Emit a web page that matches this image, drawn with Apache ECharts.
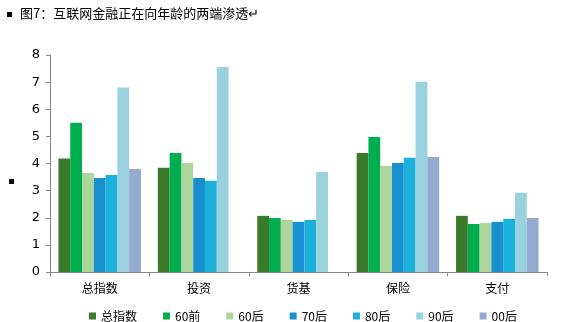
<!DOCTYPE html>
<html><head><meta charset="utf-8">
<script src="https://cdn.jsdelivr.net/npm/echarts@6/dist/echarts.min.js"></script>
<style>html,body{margin:0;padding:0;background:#fff}#c{width:564px;height:322px}</style>
</head><body><div id="c"></div>
<script>
const categories = ['总指数', '投资', '货基', '保险', '支付'];
const seriesNames = ['总指数', '60前', '60后', '70后', '80后', '90后', '00后'];
const s_total = [4.18, 3.84, 2.07, 4.39, 2.07];
const s_60q = [5.5, 4.39, 1.99, 4.98, 1.77];
const s_60h = [3.65, 4.02, 1.92, 3.91, 1.81];
const s_70h = [3.47, 3.47, 1.85, 4.02, 1.85];
const s_80h = [3.58, 3.36, 1.92, 4.21, 1.96];
const s_90h = [6.8, 7.56, 3.69, 7.01, 2.92];
const s_00h = [3.8, null, null, 4.24, 1.99];
const yTicks = [0, 1, 2, 3, 4, 5, 6, 7, 8];
const colors = ['#3B7A2B', '#00AE4F', '#ADD69C', '#1890D0', '#1BB1DA', '#99D1DE', '#95AACF'];
const allData = [s_total, s_60q, s_60h, s_70h, s_80h, s_90h, s_00h];

const chart = echarts.init(document.getElementById('c'), null, {renderer: 'canvas'});
chart.setOption({
  animation: false,
  textStyle: {fontFamily: '"Noto Sans CJK SC", "DejaVu Sans", sans-serif'},
  graphic: [
    {type: 'rect', left: 7, top: 12, shape: {width: 5, height: 5}, style: {fill: '#000'}},
    {type: 'text', left: 20, top: 7, style: {text: '图7：互联网金融正在向年龄的两端渗透↵', fill: '#000', font: '13px "Noto Sans CJK SC"'}},
    {type: 'rect', left: 9, top: 179, shape: {width: 5, height: 5}, style: {fill: '#000'}}
  ],
  grid: {left: 50, right: 17, top: 55, bottom: 50},
  legend: {
    left: 84, top: 305, itemWidth: 7, itemHeight: 7, itemGap: 26, icon: 'rect',
    textStyle: {fontSize: 12, color: '#000', fontFamily: '"Noto Sans CJK SC", sans-serif'},
    data: seriesNames
  },
  xAxis: {
    type: 'category', data: categories,
    axisLine: {lineStyle: {color: '#888'}},
    axisTick: {show: true, length: 4, lineStyle: {color: '#888'}},
    axisLabel: {color: '#000', fontSize: 12, margin: 10}
  },
  yAxis: {
    type: 'value', min: yTicks[0], max: yTicks[yTicks.length - 1], interval: 1,
    splitLine: {show: false},
    axisLine: {show: true, lineStyle: {color: '#888'}},
    axisTick: {show: true, length: 4, lineStyle: {color: '#888'}},
    axisLabel: {color: '#000', fontSize: 13, margin: 10, fontFamily: '"DejaVu Sans", sans-serif'}
  },
  series: seriesNames.map((n, i) => ({
    name: n, type: 'bar', data: allData[i], barGap: '0%', barCategoryGap: '17%',
    itemStyle: {color: colors[i]}
  }))
});
</script></body></html>
